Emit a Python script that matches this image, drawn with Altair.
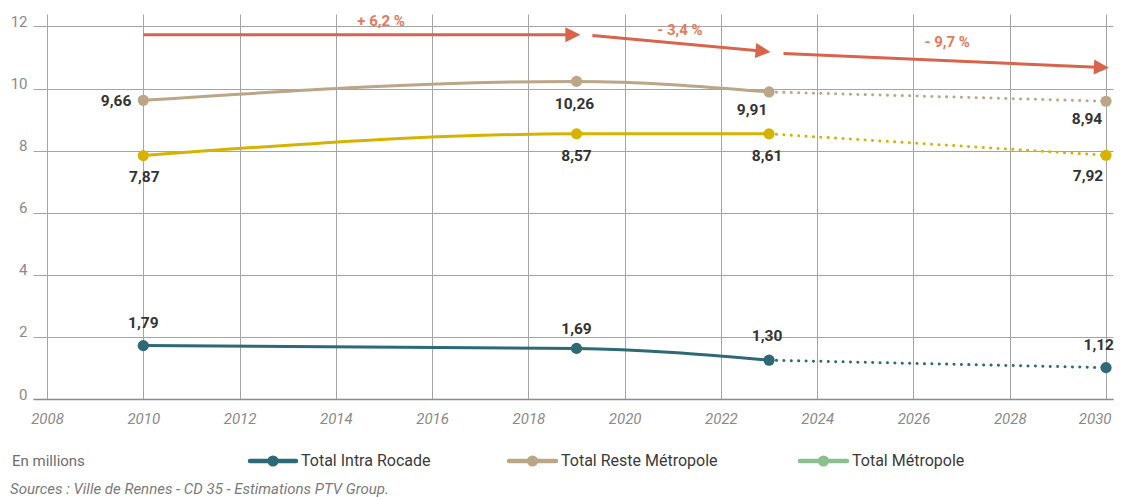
import math
import altair as alt
import pandas as pd

# ---------------- data ----------------
years = [2010, 2019, 2023, 2030]
intra_values = [1.72, 1.63, 1.25, 1.01]
reste_values = [9.62, 10.23, 9.89, 9.59]
metro_values = [7.84, 8.54, 8.54, 7.85]
intra_labels = ["1,79", "1,69", "1,30", "1,12"]
reste_labels = ["9,66", "10,26", "9,91", "8,94"]
metro_labels = ["7,87", "8,57", "8,61", "7,92"]
series_names = ["Total Intra Rocade", "Total Reste Métropole", "Total Métropole"]
x_ticks = list(range(2008, 2031, 2))
y_ticks = [0, 2, 4, 6, 8, 10, 12]

arrow_x1 = [2010.0, 2019.33, 2023.30]
arrow_y1 = [11.73, 11.71, 11.13]
arrow_x2 = [2019.08, 2023.03, 2030.06]
arrow_y2 = [11.73, 11.18, 10.67]
pct_labels = ["+ 6,2 %", "- 3,4 %", "- 9,7 %"]
pct_x = [2014.94, 2021.15, 2026.70]
pct_y = [12.18, 11.88, 11.49]

legend_title = "En millions"
source_text = "Sources : Ville de Rennes - CD 35 - Estimations PTV Group."

# ---------------- styling ----------------
W, H = 1080, 385
XMIN, XMAX = 2007.709, 2030.145
YMAX = 12.4
PXX = W / (XMAX - XMIN)
PXY = H / YMAX
FONT = "Roboto"
series_colors = ["#2d6a75", "#bba688", "#d6b300"]
legend_colors = ["#2d6a75", "#bba688", "#8cbf8f"]
ARROW = "#d9644c"
PCT = "#e27a5e"
LABEL = "#333333"

x_scale = alt.Scale(domain=[XMIN, XMAX], nice=False, zero=False)
y_scale = alt.Scale(domain=[0, YMAX], nice=False, zero=False)
color_scale = alt.Scale(domain=series_names, range=series_colors)

# long table
rows = []
for name, vals, labs in zip(series_names, [intra_values, reste_values, metro_values],
                            [intra_labels, reste_labels, metro_labels]):
    for i, (yr, v, lb) in enumerate(zip(years, vals, labs)):
        rows.append({"year": yr, "value": v, "series": name, "label": lb, "idx": i})
df = pd.DataFrame(rows)
df_solid = df[df["idx"] <= 2]
df_dot = df[df["idx"] >= 2]

x_axis = alt.Axis(values=x_ticks, format="d", title=None, ticks=False, grid=True,
                  gridColor="#a5a5a5", gridWidth=1, domainColor="#8c8c8c", domainWidth=1.5,
                  labelFont=FONT, labelFontSize=15, labelFontStyle="italic",
                  labelColor="#8a8a8a", labelPadding=12, labelFlush=10, labelFlushOffset=5)
y_axis = alt.Axis(values=y_ticks, title=None, ticks=False, grid=True, domain=False,
                  gridColor="#a5a5a5", gridWidth=1, labelFont=FONT, labelFontSize=15,
                  labelColor="#8a8a8a", labelPadding=6, labelBaseline="alphabetic")


def X(field):
    return alt.X(field, scale=x_scale, axis=x_axis)


def Y(field):
    return alt.Y(field, scale=y_scale, axis=y_axis)


solid = alt.Chart(df_solid).mark_line(interpolate="monotone", strokeWidth=3).encode(
    x=X("year:Q"), y=Y("value:Q"),
    color=alt.Color("series:N", scale=color_scale, legend=None),
    detail="series:N",
)
dotted = alt.Chart(df_dot).mark_line(strokeWidth=3, strokeDash=[0.1, 7.3], strokeCap="round").encode(
    x=X("year:Q"), y=Y("value:Q"),
    color=alt.Color("series:N", scale=color_scale, legend=None),
    detail="series:N",
)
points = alt.Chart(df).mark_circle(size=125, opacity=1).encode(
    x=X("year:Q"), y=Y("value:Q"),
    color=alt.Color("series:N", scale=color_scale, legend=None),
)

# value labels with per-label placement
offsets = {
    (0, 0): (0, -23, "center"), (0, 1): (0, -19, "center"), (0, 2): (-2, -24, "center"), (0, 3): (8, -23, "right"),
    (1, 0): (-12, 1, "right"), (1, 1): (-2, 23, "center"), (1, 2): (-17, 18, "center"), (1, 3): (-19, 18, "center"),
    (2, 0): (1, 21, "center"), (2, 1): (0, 22, "center"), (2, 2): (-2, 22, "center"), (2, 3): (-18, 21, "center"),
}
label_layers = []
for (si, pi), (dx, dy, al) in offsets.items():
    sub = df[(df["series"] == series_names[si]) & (df["idx"] == pi)]
    label_layers.append(
        alt.Chart(sub).mark_text(font=FONT, fontSize=15.5, fontWeight="bold", color=LABEL,
                                 dx=dx, dy=dy, align=al, baseline="middle").encode(
            x=X("year:Q"), y=Y("value:Q"), text="label:N",
        )
    )

# arrows
arr_rows = []
for x1, y1, x2, y2 in zip(arrow_x1, arrow_y1, arrow_x2, arrow_y2):
    pdx = (x2 - x1) * PXX
    pdy = (y1 - y2) * PXY
    ang = math.atan2(pdy, pdx)
    back = 6.0
    arr_rows.append({
        "x1": x1, "y1": y1,
        "xl": x2 - back * math.cos(ang) / PXX,
        "yl": y2 + back * math.sin(ang) / PXY,
        "x2": x2, "y2": y2, "ang": math.degrees(ang),
    })
arr_df = pd.DataFrame(arr_rows)
arrow_lines = alt.Chart(arr_df).mark_rule(color=ARROW, strokeWidth=3).encode(
    x=X("x1:Q"), y=Y("y1:Q"), x2="xl:Q", y2="yl:Q",
)
arrow_heads = alt.Chart(arr_df).mark_point(shape="M-2,-1L0,0L-2,1Z", filled=True, size=225,
                                           color=ARROW, opacity=1, strokeWidth=0).encode(
    x=X("x2:Q"), y=Y("y2:Q"), angle=alt.Angle("ang:Q", scale=None),
)
pct_df = pd.DataFrame({"x": pct_x, "y": pct_y, "t": pct_labels})
pct_text = alt.Chart(pct_df).mark_text(font=FONT, fontSize=15, fontWeight="bold", color=PCT,
                                       align="center", baseline="middle").encode(
    x=X("x:Q"), y=Y("y:Q"), text="t:N",
)

# bottom legend and notes (pixel positions relative to the plot area)
one = pd.DataFrame({"k": [0]})
extra = [
    alt.Chart(one).mark_text(font=FONT, fontSize=15, color="#6e6e6e", align="left", baseline="middle").encode(
        x=alt.value(-21), y=alt.value(447), text=alt.value(legend_title)),
    alt.Chart(one).mark_text(font=FONT, fontSize=15, fontStyle="italic", color="#7a7a7a", align="left",
                             baseline="middle").encode(
        x=alt.value(-23), y=alt.value(475), text=alt.value(source_text)),
]
leg_pos = [(217, 263), (476, 523), (767, 814)]
for (lx1, lx2), name, col in zip(leg_pos, series_names, legend_colors):
    extra.append(alt.Chart(one).mark_rule(color=col, strokeWidth=4.5, strokeCap="round").encode(
        x=alt.value(lx1), x2=alt.value(lx2), y=alt.value(447)))
    extra.append(alt.Chart(one).mark_circle(color=col, size=125, opacity=1).encode(
        x=alt.value((lx1 + lx2) / 2), y=alt.value(447)))
    extra.append(alt.Chart(one).mark_text(font=FONT, fontSize=16, color="#3a3a3a", align="left",
                                          baseline="middle").encode(
        x=alt.value(lx2 + 5), y=alt.value(447), text=alt.value(name)))

chart = alt.layer(
    solid, dotted, points, arrow_lines, arrow_heads, pct_text, *label_layers, *extra
).properties(
    width=W, height=H,
    padding={"left": 25, "top": 6, "right": 2, "bottom": 98},
    autosize=alt.AutoSizeParams(type="none"),
).configure(background="white").configure_view(stroke=None)

chart.save("out.html", embed_options={"renderer": "svg", "actions": False})
